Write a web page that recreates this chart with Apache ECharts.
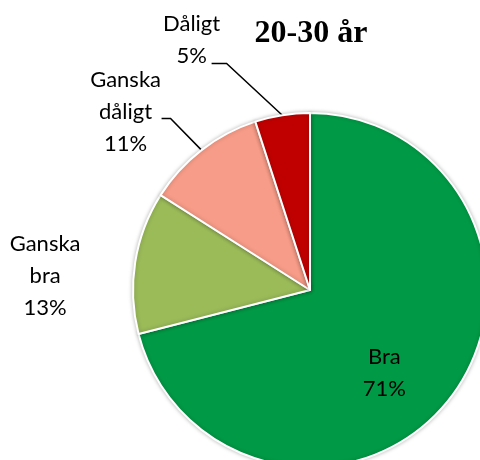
<!DOCTYPE html>
<html lang="sv">
<head>
  <meta charset="UTF-8">
  <title>20-30 år</title>
  <script src="https://cdn.jsdelivr.net/npm/echarts@6/dist/echarts.min.js"></script>
</head>
<body style="margin:0">
  <div id="main" style="width:480px;height:460px"></div>
  <script>
    // data
    const names = ['Bra', 'Ganska bra', 'Ganska dåligt', 'Dåligt']
    const values = [71, 13, 11, 5]
    const colors = ['#009A46', '#9BBB59', '#F79C88', '#C00000']
    // förskjutning av etikettens mitt (px)
    const labelShift = [[2, 27], [-21, 0], [25, -66], [-42, -56]]
    // var linjen fäster i etiketten, räknat från etikettens mitt, + längd på vågrät del
    const lineAnchor = [null, null, [36, 7, 9], [20, 24, 15]]

    const myChart = echarts.init(document.getElementById('main'))

    const data = names.map((n, i) => ({ name: n, value: values[i], itemStyle: { color: colors[i] } }))
    // Bra inne i tårtbiten, Ganska bra utan linje
    data[0].label = { position: 'inside' }
    data[0].labelLine = { show: false }
    data[1].labelLine = { show: false }

    const option = {
      title: {
        text: '20-30 år',
        left: 306,
        top: 13,
        textAlign: 'center',
        textStyle: { fontFamily: 'Liberation Serif', fontWeight: 'bold', fontSize: 32, color: '#000' }
      },
      series: [{
        type: 'pie',
        center: [310, 290],
        radius: 177,
        startAngle: 90,
        clockwise: true,
        animation: false,
        itemStyle: { borderColor: '#fff', borderWidth: 2, shadowColor: 'rgba(0,0,0,0.25)', shadowBlur: 4 },
        label: {
          show: true,
          position: 'outside',
          formatter: p => p.name.replace(' ', '\n') + '\n' + p.percent + '%',
          fontFamily: 'Lato',
          fontSize: 22,
          lineHeight: 32,
          color: '#000',
          align: 'center'
        },
        labelLine: { show: true, length: 20, length2: 12, lineStyle: { color: '#000', width: 1.5 } },
        labelLayout: p => {
          const i = p.dataIndex
          const r = p.labelRect
          const cx = r.x + r.width / 2 + labelShift[i][0]
          const cy = r.y + r.height / 2 + labelShift[i][1]
          const res = { x: cx, y: cy, align: 'center', verticalAlign: 'middle' }
          const a = lineAnchor[i]
          if (a && p.labelLinePoints) {
            const edge = p.labelLinePoints[0]
            res.labelLinePoints = [
              [edge[0], edge[1]],
              [cx + a[0] + a[2], cy + a[1]],
              [cx + a[0], cy + a[1]]
            ]
          }
          return res
        },
        data: data
      }]
    }
    myChart.setOption(option)
  </script>
</body>
</html>
